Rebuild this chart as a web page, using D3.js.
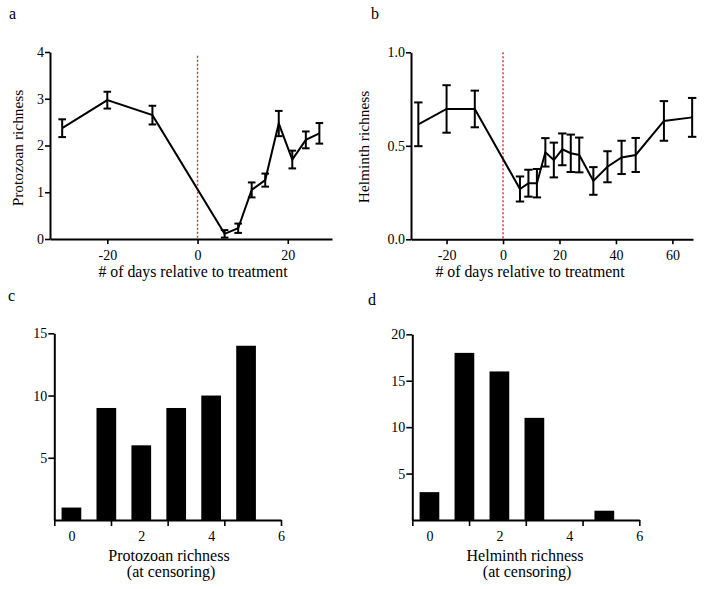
<!DOCTYPE html>
<html><head><meta charset="utf-8">
<script src="https://cdn.jsdelivr.net/npm/d3@7"></script>
<style>
html,body{margin:0;padding:0;background:#fff;}
svg text{font-family:"Liberation Serif","Times New Roman",serif !important;fill:#000;}
</style></head>
<body><svg id="chart" width="704" height="589" font-family="Liberation Serif, serif"></svg>
<script>
// ---- data ----
const protoDays = [-30, -20, -10, 6, 9, 12, 15, 18, 21, 24, 27];
const protoMean = [2.37, 2.97, 2.65, 0.11, 0.23, 1.05, 1.26, 2.47, 1.70, 2.12, 2.26];
const protoErr  = [0.19, 0.18, 0.20, 0.08, 0.10, 0.16, 0.14, 0.27, 0.19, 0.18, 0.22];
const protoYTicks = [0, 1, 2, 3, 4];
const protoXTicks = [-20, 0, 20];

const helDays = [-30, -20, -10, 6, 9, 12, 15, 18, 21, 24, 27, 32, 37, 42, 47, 57, 67];
const helMean = [0.615, 0.697, 0.697, 0.269, 0.30, 0.30, 0.465, 0.424, 0.481, 0.46, 0.451, 0.312, 0.388, 0.438, 0.451, 0.633, 0.652];
const helErr  = [0.117, 0.127, 0.098, 0.067, 0.072, 0.076, 0.076, 0.093, 0.085, 0.10, 0.093, 0.074, 0.083, 0.089, 0.091, 0.106, 0.104];
const helYTicks = [0, 0.5, 1.0];
const helXTicks = [-20, 0, 20, 40, 60];

const treatmentDay = 0;

const richnessCats = [0, 1, 2, 3, 4, 5];
const protoCounts = [1, 9, 6, 9, 10, 14];
const helCounts = [3, 18, 16, 11, 0, 1];
const barXTickLabels = [0, 2, 4, 6];
const protoCountTicks = [5, 10, 15];
const helCountTicks = [5, 10, 15, 20];

// ---- drawing ----
const svg = d3.select("#chart");
const RED = "#e0262b";
const SERIF = "Liberation Serif, Times New Roman, serif";
const plain = d => String(d);

function styleAxis(g) {
  g.attr("font-family", SERIF).attr("font-size", 14);
  g.selectAll(".domain").attr("stroke", "#000").attr("stroke-width", 2);
  g.selectAll(".tick line").attr("stroke", "#000").attr("stroke-width", 1.6);
  g.selectAll(".tick text").attr("font-size", 14).attr("font-family", SERIF);
}

function linePanel(opt) {
  const x = d3.scaleLinear().domain(opt.xDomain).range(opt.xRange);
  const y = d3.scaleLinear().domain(opt.yDomain).range(opt.yRange);
  const g = svg.append("g");
  const data = opt.days.map((d, i) => ({d, m: opt.mean[i], e: opt.err[i]}));

  // treatment line
  g.append("line")
    .attr("x1", x(treatmentDay)).attr("x2", x(treatmentDay))
    .attr("y1", y(opt.redTop)).attr("y2", y(opt.yDomain[0]))
    .attr("stroke", RED).attr("stroke-width", 1.4).attr("stroke-dasharray", "2,2");

  // axes
  const ya = g.append("g").attr("transform", `translate(${opt.xRange[0]},0)`)
    .call(d3.axisLeft(y).tickValues(opt.yTicks).tickSize(5).tickPadding(1).tickSizeOuter(0).tickFormat(opt.yFmt));
  styleAxis(ya);
  const xa = g.append("g").attr("transform", `translate(0,${opt.yRange[0]})`)
    .call(d3.axisBottom(x).tickValues(opt.xTicks).tickSize(5).tickPadding(6).tickSizeOuter(0).tickFormat(plain));
  styleAxis(xa);

  // line
  g.append("path").datum(data)
    .attr("fill", "none").attr("stroke", "#000").attr("stroke-width", 2)
    .attr("stroke-linejoin", "miter")
    .attr("d", d3.line().x(p => x(p.d)).y(p => y(p.m)));

  // error bars
  const cap = opt.cap;
  const eb = g.append("g").selectAll("g").data(data).join("g");
  eb.append("line").attr("x1", p => x(p.d)).attr("x2", p => x(p.d))
    .attr("y1", p => y(p.m - p.e)).attr("y2", p => y(p.m + p.e))
    .attr("stroke", "#000").attr("stroke-width", 2);
  eb.append("line").attr("x1", p => x(p.d) - cap).attr("x2", p => x(p.d) + cap)
    .attr("y1", p => y(p.m + p.e)).attr("y2", p => y(p.m + p.e))
    .attr("stroke", "#000").attr("stroke-width", 2);
  eb.append("line").attr("x1", p => x(p.d) - cap).attr("x2", p => x(p.d) + cap)
    .attr("y1", p => y(p.m - p.e)).attr("y2", p => y(p.m - p.e))
    .attr("stroke", "#000").attr("stroke-width", 2);

  // titles
  g.append("text").attr("x", opt.xTitlePos[0]).attr("y", opt.xTitlePos[1])
    .attr("font-family", SERIF)
    .attr("text-anchor", "middle").attr("font-size", 15.8).text("# of days relative to treatment");
  g.append("text").attr("transform", `translate(${opt.yTitlePos[0]},${opt.yTitlePos[1]}) rotate(-90)`)
    .attr("font-family", SERIF)
    .attr("text-anchor", "middle").attr("font-size", 15.4).text(opt.yTitle);
}

function barPanel(opt) {
  const x = d3.scaleLinear().domain(opt.xDomain).range(opt.xRange);
  const y = d3.scaleLinear().domain(opt.yDomain).range(opt.yRange);
  const g = svg.append("g");
  const halfW = 0.282;

  g.selectAll("rect").data(opt.cats.map((c, i) => ({c, v: opt.counts[i]})).filter(d => d.v > 0))
    .join("rect")
    .attr("x", d => x(d.c - halfW)).attr("width", d => x(d.c + halfW) - x(d.c - halfW))
    .attr("y", d => y(d.v)).attr("height", d => y(0) - y(d.v))
    .attr("fill", "#000");

  const ya = g.append("g").attr("transform", `translate(${opt.xRange[0]},0)`)
    .call(d3.axisLeft(y).tickValues(opt.yTicks).tickSize(6).tickPadding(1).tickSizeOuter(0).tickFormat(plain));
  styleAxis(ya);

  // tick marks spaced evenly over the axis (as in the original)
  const [lo, hi] = opt.xDomain;
  const markVals = d3.range(5).map(i => lo + i * (hi - lo) / 4);
  const xm = g.append("g").attr("transform", `translate(0,${opt.yRange[0]})`)
    .call(d3.axisBottom(x).tickValues(markVals).tickSize(6).tickSizeOuter(0).tickFormat(""));
  styleAxis(xm);
  const xl = g.append("g").attr("transform", `translate(0,${opt.yRange[0]})`)
    .call(d3.axisBottom(x).tickValues(opt.xLabels).tickSize(0).tickPadding(11).tickSizeOuter(0).tickFormat(plain));
  xl.select(".domain").remove();
  styleAxis(xl);

  g.append("text").attr("x", opt.titlePos[0]).attr("y", opt.titlePos[1])
    .attr("font-family", SERIF)
    .attr("text-anchor", "middle").attr("font-size", 16).text(opt.title);
  g.append("text").attr("x", opt.titlePos[0] + 2).attr("y", opt.titlePos[1] + 16)
    .attr("font-family", SERIF)
    .attr("text-anchor", "middle").attr("font-size", 16).text("(at censoring)");
}

linePanel({
  days: protoDays, mean: protoMean, err: protoErr,
  xDomain: [-32.7, 29.8], xRange: [50, 332],
  yDomain: [0, 4], yRange: [239, 52],
  yTicks: protoYTicks, xTicks: protoXTicks, yFmt: plain,
  redTop: 3.92, cap: 3.8,
  xTitlePos: [193, 277], yTitlePos: [23, 148], yTitle: "Protozoan richness"
});

linePanel({
  days: helDays, mean: helMean, err: helErr,
  xDomain: [-32.6, 67.3], xRange: [411, 693],
  yDomain: [0, 1], yRange: [239.3, 52.3],
  yTicks: helYTicks, xTicks: helXTicks, yFmt: d3.format(".1f"),
  redTop: 1.0, cap: 4.2,
  xTitlePos: [530, 277], yTitlePos: [369, 147], yTitle: "Helminth richness"
});

barPanel({
  cats: richnessCats, counts: protoCounts,
  xDomain: [-0.49, 6], xRange: [54.3, 281],
  yDomain: [0, 15], yRange: [520, 333.3],
  yTicks: protoCountTicks, xLabels: barXTickLabels,
  title: "Protozoan richness", titlePos: [169, 561]
});

barPanel({
  cats: richnessCats, counts: helCounts,
  xDomain: [-0.49, 6], xRange: [412.3, 639.3],
  yDomain: [0, 20], yRange: [520, 334.3],
  yTicks: helCountTicks, xLabels: barXTickLabels,
  title: "Helminth richness", titlePos: [525, 561]
});

// panel letters
const letters = [["a", 9, 19], ["b", 371, 19], ["c", 8, 301], ["d", 368, 305]];
svg.selectAll("text.panel").data(letters).join("text").attr("class", "panel")
  .attr("font-family", SERIF)
  .attr("x", d => d[1]).attr("y", d => d[2]).attr("font-size", 16).text(d => d[0]);
</script></body></html>
